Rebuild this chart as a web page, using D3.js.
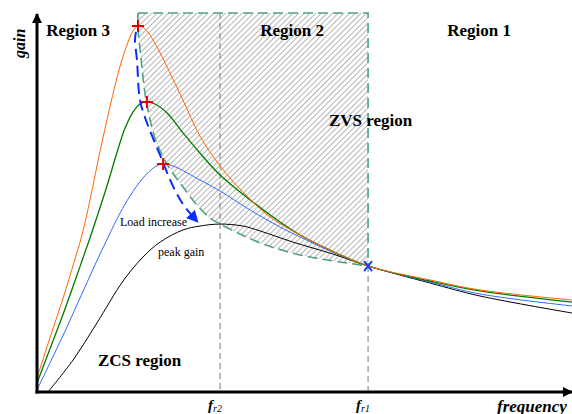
<!DOCTYPE html>
<html><head><meta charset="utf-8">
<script src="https://cdn.jsdelivr.net/npm/d3@7"></script>
<style>
html,body{margin:0;padding:0;background:#fff;}
svg{display:block;font-family:"Liberation Serif","Times New Roman",serif;}
</style></head>
<body><svg id="c" width="572" height="414"></svg>
<script>
// normalized frequency (f / fr1) and gain values
const orangeF = [0,0.039,0.079,0.112,0.136,0.160,0.190,0.221,0.251,0.275,0.290,0.305,0.323,0.347,0.393,0.441,0.492,0.553,0.622,0.704,0.795,0.885,1,1.187,1.338,1.616];
const orangeG = [0.111,0.429,0.746,1.032,1.246,1.524,1.905,2.270,2.587,2.778,2.865,2.905,2.889,2.810,2.579,2.317,2.032,1.794,1.587,1.389,1.246,1.127,1,0.889,0.810,0.730];
const greenF = [0,0.039,0.079,0.121,0.160,0.190,0.215,0.242,0.266,0.290,0.311,0.332,0.356,0.393,0.441,0.492,0.553,0.644,0.734,0.795,0.885,1,1.187,1.338,1.616];
const greenG = [0.071,0.341,0.619,0.929,1.222,1.460,1.667,1.905,2.095,2.222,2.286,2.302,2.286,2.214,2.056,1.897,1.722,1.524,1.349,1.246,1.127,1,0.881,0.802,0.714];
const blueF = [0,0.039,0.085,0.130,0.175,0.215,0.251,0.281,0.320,0.356,0.381,0.411,0.492,0.553,0.644,0.734,0.795,0.885,1,1.187,1.338,1.616];
const blueG = [0.016,0.230,0.484,0.746,1.008,1.230,1.421,1.556,1.698,1.786,1.810,1.794,1.683,1.595,1.444,1.310,1.230,1.119,1,0.873,0.778,0.683];
const blackF = [0.033,0.109,0.181,0.260,0.320,0.372,0.441,0.492,0.553,0.622,0.674,0.773,0.894,1,1.187,1.338,1.616];
const blackG = [0,0.254,0.548,0.881,1.071,1.190,1.286,1.317,1.333,1.317,1.278,1.190,1.095,1,0.865,0.762,0.627];
// ZVS boundary (peak-gain locus) and load-increase arrow
const boundF = [0.305,0.305,0.317,0.326,0.335,0.356,0.381,0.408,0.441,0.483,0.523,0.553,0.613,0.674,0.749,0.825,0.915,1];
const boundG = [3.008,2.897,2.579,2.373,2.238,2.016,1.865,1.746,1.627,1.484,1.381,1.333,1.254,1.183,1.119,1.071,1.032,1];
const arrowF = [0.299,0.296,0.302,0.311,0.329,0.350,0.378,0.402,0.426,0.447,0.483];
const arrowG = [2.857,2.794,2.635,2.317,2.159,2.016,1.841,1.683,1.556,1.468,1.357];
const peakF = [0.305,0.332,0.381];
const peakG = [2.905,2.302,1.810];
const fr2 = 0.553, fr1 = 1, gTop = 3.008, fMax = 1.616;
const regionLabels = ["Region 3","Region 2","Region 1"];
const regionF = [0.028,0.674,1.239];

const svg = d3.select("#c");
const x = d3.scaleLinear().domain([0,fMax]).range([37,572]);
const y = d3.scaleLinear().domain([0,gTop]).range([392,13]);
const zip = (a,b)=>a.map((v,i)=>[v,b[i]]);

const defs = svg.append("defs");
const pat = defs.append("pattern").attr("id","hatch").attr("patternUnits","userSpaceOnUse")
  .attr("width",4).attr("height",4).attr("patternTransform","rotate(45)");
pat.append("line").attr("x1",0).attr("y1",0).attr("x2",0).attr("y2",4)
  .attr("stroke","#8c8c8c").attr("stroke-width",1.3);
defs.append("marker").attr("id","ah").attr("viewBox","0 0 10 10").attr("refX",8).attr("refY",5)
  .attr("orient","auto").attr("markerUnits","userSpaceOnUse")
  .attr("markerWidth",12).attr("markerHeight",12)
  .append("path").attr("d","M0,0L10,5L0,10z").attr("fill","#0a2cff");
defs.append("marker").attr("id","axh").attr("viewBox","0 0 10 10").attr("refX",9).attr("refY",5)
  .attr("markerUnits","userSpaceOnUse").attr("markerWidth",14).attr("markerHeight",10).attr("orient","auto")
  .append("path").attr("d","M0,0L10,5L0,10z").attr("fill","#000");

// shaded ZVS area
const bpts = zip(boundF,boundG);
const catm = d3.line().x(d=>x(d[0])).y(d=>y(d[1])).curve(d3.curveCatmullRom.alpha(0.5));
const areaPath = catm(bpts) + "L" + x(1) + "," + y(gTop) + "Z";
svg.append("path").attr("d",areaPath).attr("fill","url(#hatch)");

// gray dashed verticals
svg.append("line").attr("x1",x(fr2)).attr("x2",x(fr2)).attr("y1",y(gTop)).attr("y2",y(0))
  .attr("stroke","#7a7a7a").attr("stroke-dasharray","6,4").attr("stroke-width",1);
svg.append("line").attr("x1",x(fr1)).attr("x2",x(fr1)).attr("y1",y(1)).attr("y2",y(0))
  .attr("stroke","#7a7a7a").attr("stroke-dasharray","6,4").attr("stroke-width",1);

// curves
const series = [[blackF,blackG,"#000",1],[blueF,blueG,"#2f6bff",1],[greenF,greenG,"#007a00",1.3],[orangeF,orangeG,"#ff6600",1]];
series.forEach(s=>{
  svg.append("path").attr("d",catm(zip(s[0],s[1]))).attr("fill","none").attr("stroke",s[2]).attr("stroke-width",s[3]);
});

// ZVS boundary dashed green
svg.append("path").attr("d",catm(bpts)).attr("fill","none").attr("stroke","#4ea37c")
  .attr("stroke-width",1.6).attr("stroke-dasharray","10,5");
svg.append("path").attr("d",`M${x(boundF[0])},${y(gTop)}L${x(1)},${y(gTop)}L${x(1)},${y(1)}`)
  .attr("fill","none").attr("stroke","#4ea37c").attr("stroke-width",1.6).attr("stroke-dasharray","10,5");

// load increase arrow
svg.append("path").attr("d",catm(zip(arrowF,arrowG))).attr("fill","none").attr("stroke","#0a2cff")
  .attr("stroke-width",2).attr("stroke-dasharray","11,6").attr("marker-end","url(#ah)");

// red crosses at peaks
peakF.forEach((f,i)=>{
  const cx=x(f), cy=y(peakG[i]);
  svg.append("path").attr("d",`M${cx-6},${cy}L${cx+6},${cy}M${cx},${cy-6}L${cx},${cy+6}`)
    .attr("stroke","#e00000").attr("stroke-width",2);
});
// blue x at fr1
{const cx=x(fr1), cy=y(1);
svg.append("path").attr("d",`M${cx-4},${cy-5}L${cx+4},${cy+5}M${cx+4},${cy-5}L${cx-4},${cy+5}`)
  .attr("stroke","#1a3cff").attr("stroke-width",2);}

// axes
svg.append("line").attr("x1",x(0)).attr("x2",x(0)).attr("y1",y(0)+1.5).attr("y2",14)
  .attr("stroke","#000").attr("stroke-width",3).attr("marker-end","url(#axh)");
svg.append("line").attr("x1",x(0)-1.5).attr("x2",572).attr("y1",y(0)).attr("y2",y(0))
  .attr("stroke","#000").attr("stroke-width",3).attr("marker-end","url(#axh)");

// texts
regionLabels.forEach((t,i)=>{
  svg.append("text").attr("x",x(regionF[i])).attr("y",36).attr("font-size",17).attr("font-weight","bold").text(t);
});
svg.append("text").attr("x",329).attr("y",126).attr("font-size",17).attr("font-weight","bold").text("ZVS region");
svg.append("text").attr("x",98).attr("y",366).attr("font-size",17).attr("font-weight","bold").text("ZCS region");
svg.append("text").attr("x",120).attr("y",226).attr("font-size",12).text("Load increase");
svg.append("text").attr("x",158).attr("y",256).attr("font-size",12).text("peak gain");
svg.append("text").attr("transform","translate(25,58) rotate(-90)").attr("font-size",16)
  .attr("font-weight","bold").attr("font-style","italic").text("gain");
svg.append("text").attr("x",497).attr("y",412).attr("font-size",17)
  .attr("font-weight","bold").attr("font-style","italic").text("frequency");
[[fr2,"r2"],[fr1,"r1"]].forEach(d=>{
  const t = svg.append("text").attr("x",x(d[0])-12).attr("y",410).attr("font-size",15)
    .attr("font-style","italic").attr("font-weight","bold");
  t.append("tspan").text("f");
  t.append("tspan").attr("font-size",10).attr("dy",2).attr("font-weight","normal").text(d[1]);
});
</script></body></html>
